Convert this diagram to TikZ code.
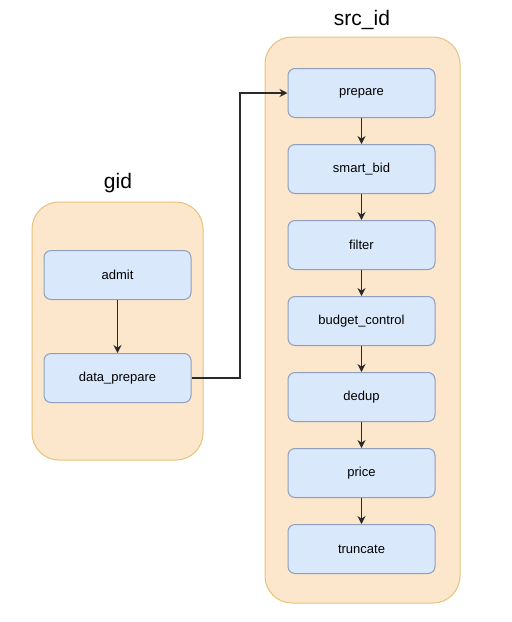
\documentclass[tikz,border=0pt]{standalone}
\usepackage{fontspec}
\setmainfont{Liberation Sans}
\usetikzlibrary{arrows.meta,positioning}
\definecolor{grpfill}{HTML}{FCE6CC}
\definecolor{grpline}{HTML}{E8C27C}
\definecolor{stagefill}{HTML}{DAE8FC}
\definecolor{stageline}{HTML}{8EA0BC}
\definecolor{flowline}{HTML}{2A2A2A}
\tikzset{
  group/.style={
    draw=grpline,
    fill=grpfill,
    line width=1pt,
    rounded corners=27pt,
    inner sep=0pt
  },
  stage/.style={
    draw=stageline,
    fill=stagefill,
    line width=1pt,
    rounded corners=7pt,
    minimum width=147pt,
    minimum height=49pt,
    inner sep=0pt,
    font=\fontsize{13}{15}\selectfont
  },
  grouptitle/.style={
    font=\fontsize{21}{24}\selectfont
  },
  flow/.style={
    draw=flowline,
    line width=1.4pt,
    -{Stealth[length=8pt,width=8pt]}
  }
}

\begin{document}
\begin{tikzpicture}[x=1pt,y=-1pt]
    \fill[white] (0,0) rectangle (512,622);
    \useasboundingbox (0,0) rectangle (512,622);
    % containers
    \node[group, minimum width=171pt, minimum height=258pt] (gidbox) at (117.5,331) {};
    \node[group, minimum width=195pt, minimum height=566pt] (srcbox) at (362.5,320) {};
    \node[grouptitle] (gidtitle) at (118,183) {gid};
    \node[grouptitle] (srctitle) at (362,20) {src\_id};
    % gid stages
    \node[stage] (admit) at (117.5,275) {admit};
    \node[stage] (dataprep) at (117.5,378) {data\_prepare};
    % src_id stages
    \node[stage] (prepare) at (361.5,93) {prepare};
    \node[stage] (smartbid) at (361.5,169) {smart\_bid};
    \node[stage] (filter) at (361.5,245) {filter};
    \node[stage] (budget) at (361.5,321) {budget\_control};
    \node[stage] (dedup) at (361.5,397) {dedup};
    \node[stage] (price) at (361.5,473) {price};
    \node[stage] (truncate) at (361.5,549) {truncate};
    % connectors
    \draw[flow] (admit) -- (dataprep);
    \coordinate (bend) at (240,378);
    \draw[flow] (dataprep) -- (bend) |- (prepare);
    \draw[flow] (prepare) -- (smartbid);
    \draw[flow] (smartbid) -- (filter);
    \draw[flow] (filter) -- (budget);
    \draw[flow] (budget) -- (dedup);
    \draw[flow] (dedup) -- (price);
    \draw[flow] (price) -- (truncate);
\end{tikzpicture}
\end{document}
